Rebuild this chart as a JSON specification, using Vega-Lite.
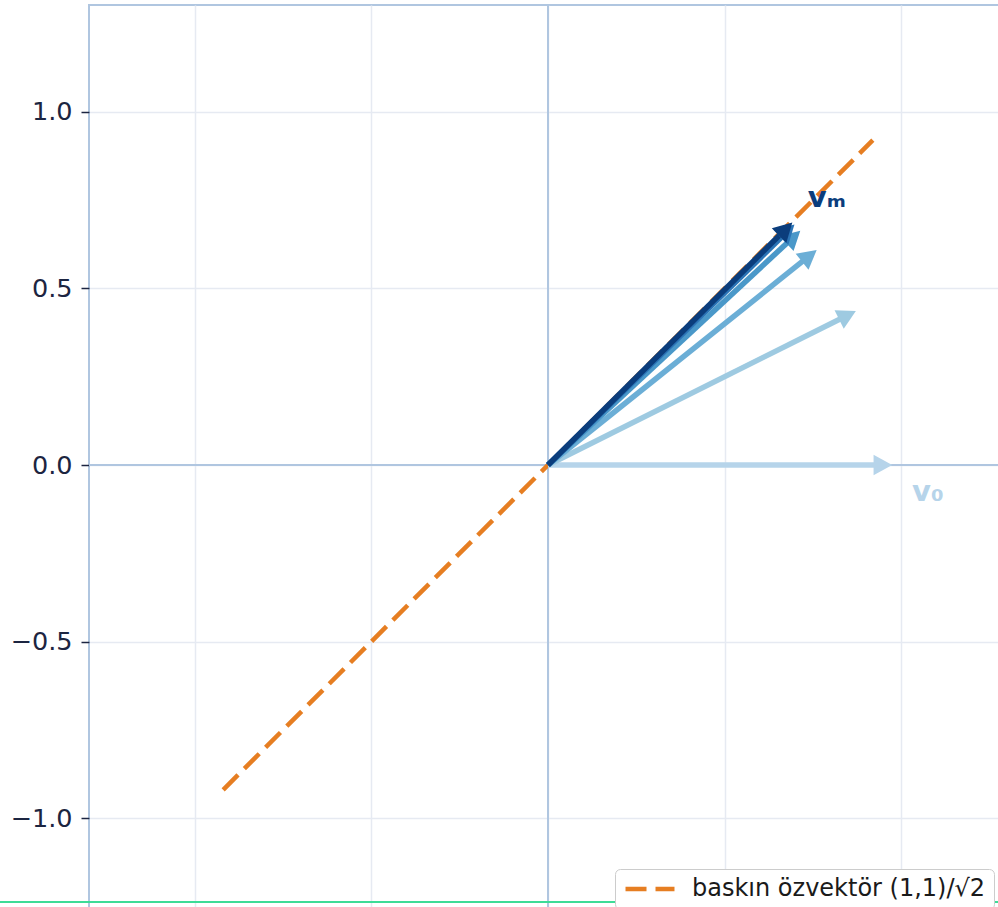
{
  "$schema": "https://vega.github.io/schema/vega-lite/v6.json",
  "width": 918,
  "height": 920,
  "autosize": {"type": "none"},
  "padding": {"left": 89, "top": 5, "right": 0, "bottom": 0},
  "background": "white",
  "config": {
    "view": {"stroke": "#b0c6e0", "strokeWidth": 2},
    "font": "DejaVu Sans",
    "axisX": {"grid": true, "labels": false, "ticks": false, "domain": false, "title": null, "gridColor": "#e6eaf2", "gridWidth": 1.5},
    "axisY": {"grid": true, "domain": false, "title": null, "gridColor": "#e6eaf2", "gridWidth": 1.5, "tickColor": "#1c2541", "tickSize": 8, "tickWidth": 1.5, "labelFontSize": 25.5, "labelColor": "#1c2541", "labelPadding": 9, "labelFont": "DejaVu Sans"}
  },
  "datasets": {
    "vectors": [
      {"step": 0, "x0": 0, "y0": 0, "x": 0.975, "y": 0.0, "label": "v₀", "lx": 1.076, "ly": -0.077},
      {"step": 1, "x0": 0, "y0": 0, "x": 0.872, "y": 0.436},
      {"step": 2, "x0": 0, "y0": 0, "x": 0.761, "y": 0.609},
      {"step": 3, "x0": 0, "y0": 0, "x": 0.7145, "y": 0.6635},
      {"step": 4, "x0": 0, "y0": 0, "x": 0.698, "y": 0.681},
      {"step": 5, "x0": 0, "y0": 0, "x": 0.692, "y": 0.687, "label": "vₘ", "lx": 0.79, "ly": 0.756}
    ],
    "eigen": [
      {"x1": -0.92, "y1": -0.92, "x2": 0.92, "y2": 0.92, "name": "baskın özvektör (1,1)/√2"}
    ]
  },
  "layer": [
    {
      "data": {"values": [{}]},
      "mark": {"type": "rule", "color": "#b0c6e0", "strokeWidth": 2},
      "encoding": {
        "x": {
          "datum": 0,
          "type": "quantitative",
          "scale": {"domain": [-1.3, 1.3], "nice": false, "zero": false},
          "axis": {"values": [-1, -0.5, 0, 0.5, 1]}
        }
      }
    },
    {
      "data": {"values": [{}]},
      "mark": {"type": "rule", "color": "#b0c6e0", "strokeWidth": 2},
      "encoding": {
        "y": {
          "datum": 0,
          "type": "quantitative",
          "scale": {"domain": [-1.303, 1.303], "nice": false, "zero": false},
          "axis": {"values": [-1, -0.5, 0, 0.5, 1], "format": ".1f"}
        }
      }
    },
    {
      "data": {"name": "eigen"},
      "mark": {"type": "rule", "strokeWidth": 4.5, "strokeDash": [21, 9]},
      "encoding": {
        "x": {"field": "x1", "type": "quantitative"},
        "y": {"field": "y1", "type": "quantitative"},
        "x2": {"field": "x2"},
        "y2": {"field": "y2"},
        "color": {
          "field": "name",
          "type": "nominal",
          "scale": {"range": ["#e67e22"]},
          "legend": {
            "title": null,
            "orient": "none",
            "legendX": 526,
            "legendY": 864,
            "padding": 8,
            "clipHeight": 24,
            "strokeColor": "#cccccc",
            "fillColor": "white",
            "cornerRadius": 5,
            "symbolType": "stroke",
            "symbolSize": 2400,
            "symbolStrokeWidth": 4.5,
            "symbolDash": [21, 9],
            "labelFontSize": 24,
            "labelFont": "DejaVu Sans",
            "labelColor": "#1a1a1a",
            "labelOffset": 15,
            "labelLimit": 500
          }
        }
      }
    },
    {
      "data": {"name": "vectors"},
      "transform": [
        {"calculate": "datum.x * 0.97", "as": "xe"},
        {"calculate": "datum.y * 0.97", "as": "ye"}
      ],
      "mark": {"type": "rule", "strokeWidth": 5.5},
      "encoding": {
        "x": {"field": "x0", "type": "quantitative"},
        "y": {"field": "y0", "type": "quantitative"},
        "x2": {"field": "xe"},
        "y2": {"field": "ye"},
        "color": {
          "field": "step",
          "type": "ordinal",
          "scale": {"domain": [0, 1, 2, 3, 4, 5], "range": ["#b6d4ea", "#9ecae1", "#6baed6", "#4a98c9", "#2b74b6", "#0b3d7c"]},
          "legend": null
        }
      }
    },
    {
      "data": {"name": "vectors"},
      "transform": [
        {"calculate": "90 - atan2(datum.y, datum.x) * 180 / PI", "as": "angle"}
      ],
      "mark": {"type": "point", "shape": "M0,0 L-0.55,1 L0.55,1 Z", "filled": true, "opacity": 1, "size": 1400, "strokeWidth": 1.5, "strokeJoin": "round"},
      "encoding": {
        "x": {"field": "x", "type": "quantitative"},
        "y": {"field": "y", "type": "quantitative"},
        "angle": {"field": "angle", "type": "quantitative", "scale": null},
        "color": {
          "field": "step",
          "type": "ordinal",
          "scale": {"domain": [0, 1, 2, 3, 4, 5], "range": ["#b6d4ea", "#9ecae1", "#6baed6", "#4a98c9", "#2b74b6", "#0b3d7c"]},
          "legend": null
        }
      }
    },
    {
      "data": {"name": "vectors"},
      "transform": [{"filter": "datum.label != null"}],
      "mark": {"type": "text", "fontWeight": "bold", "fontSize": 29, "align": "center", "baseline": "middle", "font": "DejaVu Sans"},
      "encoding": {
        "x": {"field": "lx", "type": "quantitative"},
        "y": {"field": "ly", "type": "quantitative"},
        "text": {"field": "label"},
        "color": {
          "field": "step",
          "type": "ordinal",
          "scale": {"domain": [0, 1, 2, 3, 4, 5], "range": ["#b6d4ea", "#9ecae1", "#6baed6", "#4a98c9", "#2b74b6", "#0b3d7c"]},
          "legend": null
        }
      }
    },
    {
      "data": {"values": [{}]},
      "mark": {"type": "rule", "color": "#3ddc97", "strokeWidth": 2, "clip": false},
      "encoding": {
        "x": {"datum": -1.6, "type": "quantitative"},
        "x2": {"datum": 1.6},
        "y": {"datum": -1.2375, "type": "quantitative"}
      }
    }
  ],
  "resolve": {"scale": {"color": "independent"}, "legend": {"color": "independent"}}
}
